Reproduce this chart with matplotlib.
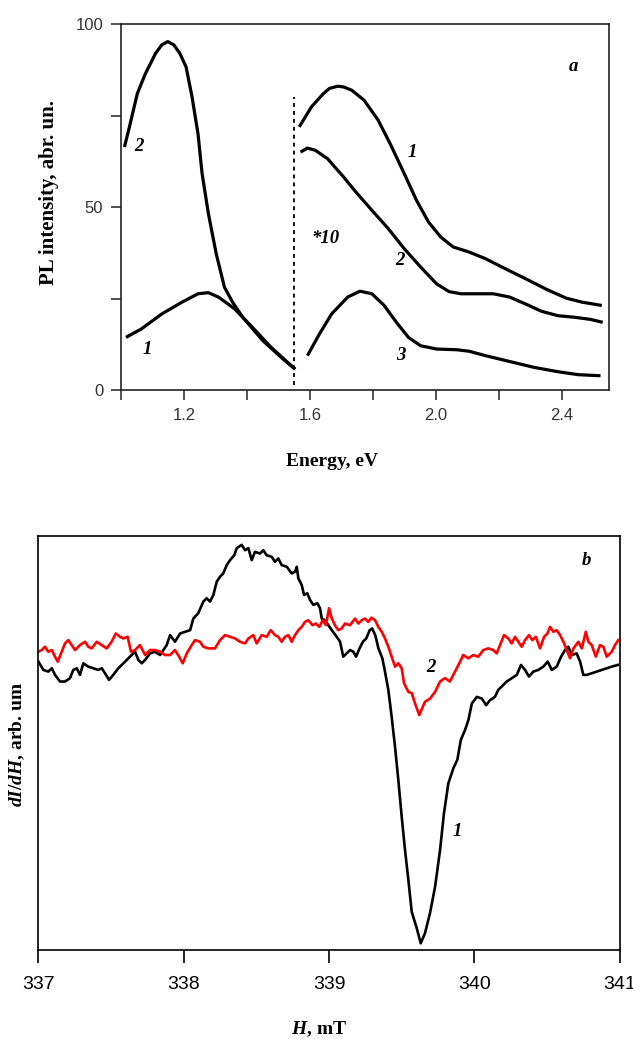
import matplotlib
matplotlib.use("Agg")
import matplotlib.pyplot as plt

plt.rcParams['mathtext.fontset'] = 'custom'
plt.rcParams['mathtext.it'] = 'Liberation Serif:italic:bold'
plt.rcParams['mathtext.rm'] = 'Liberation Serif:bold'

# ---------------- Panel a data (PL spectra) ----------------
e_c2_left = [1.010, 1.026, 1.051, 1.077, 1.093, 1.109, 1.129, 1.148, 1.167, 1.186, 1.206, 1.225,
             1.244, 1.257, 1.277, 1.302, 1.328, 1.354, 1.386, 1.45, 1.514, 1.553]
i_c2_left = [66.4, 71.9, 81.0, 86.5, 89.2, 92.0, 94.3, 95.2, 94.3, 92.0, 88.3, 80.1,
             70.0, 59.1, 48.2, 37.2, 28.1, 24.0, 19.9, 13.5, 8.5, 5.7]
e_c1_left = [1.015, 1.064, 1.129, 1.193, 1.244, 1.277, 1.309, 1.36, 1.412, 1.476, 1.553]
i_c1_left = [14.4, 16.7, 20.8, 24.0, 26.3, 26.6, 25.4, 22.2, 17.6, 11.7, 5.7]

e_c1_right = [1.566, 1.605, 1.643, 1.662, 1.688, 1.707, 1.733, 1.772, 1.817, 1.855, 1.90, 1.939,
              1.977, 2.016, 2.055, 2.106, 2.158, 2.222, 2.286, 2.35, 2.415, 2.466, 2.528]
i_c1_right = [71.9, 77.4, 81.0, 82.4, 83.0, 82.8, 81.9, 79.2, 73.7, 67.3, 59.1, 51.8,
              45.9, 41.8, 39.1, 37.7, 35.9, 33.1, 30.4, 27.6, 25.1, 24.0, 23.1]
e_c2_right = [1.570, 1.592, 1.617, 1.656, 1.707, 1.746, 1.797, 1.849, 1.90, 1.952, 2.003, 2.042,
              2.08, 2.132, 2.183, 2.235, 2.286, 2.337, 2.389, 2.44, 2.492, 2.531]
i_c2_right = [65.0, 66.1, 65.5, 63.2, 58.2, 54.1, 49.1, 44.1, 38.6, 33.6, 29.0, 26.9,
              26.3, 26.3, 26.3, 25.4, 23.5, 21.5, 20.3, 19.9, 19.3, 18.5]
e_c3 = [1.592, 1.63, 1.669, 1.72, 1.759, 1.797, 1.836, 1.875, 1.913, 1.952, 2.003, 2.068,
        2.106, 2.158, 2.235, 2.312, 2.389, 2.453, 2.524]
i_c3 = [9.4, 15.3, 20.8, 25.4, 27.0, 26.3, 23.1, 18.5, 14.4, 12.1, 11.2, 11.0,
        10.6, 9.4, 7.8, 6.2, 5.0, 4.2, 3.9]

split_energy = 1.55
x_ticks_a = [1.0, 1.2, 1.4, 1.6, 1.8, 2.0, 2.2, 2.4]
x_ticklabels_a = ['', '1.2', '', '1.6', '', '2.0', '', '2.4']
y_ticks_a = [0, 25, 50, 75, 100]
y_ticklabels_a = ['0', '', '50', '', '100']

# ---------------- Panel b data (EPR) ----------------
h_black = [337.0, 337.034, 337.068, 337.092, 337.114, 337.149, 337.183, 337.217, 337.24, 337.264,
           337.286, 337.309, 337.343, 337.378, 337.412, 337.436, 337.458, 337.486, 337.515, 337.55,
           337.584, 337.619, 337.642, 337.665, 337.688, 337.711, 337.734, 337.768, 337.802, 337.837,
           337.86, 337.883, 337.906, 337.94, 337.975, 338.009, 338.044, 338.066, 338.1, 338.135,
           338.158, 338.181, 338.204, 338.227, 338.25, 338.272, 338.296, 338.319, 338.348, 338.365,
           338.399, 338.422, 338.445, 338.468, 338.49, 338.525, 338.548, 338.57, 338.606, 338.628,
           338.651, 338.674, 338.709, 338.743, 338.766, 338.778, 338.789, 338.812, 338.828, 338.851,
           338.869, 338.892, 338.92, 338.938, 338.95, 338.972, 338.995, 339.019, 339.053, 339.076,
           339.098, 339.122, 339.145, 339.167, 339.186, 339.21, 339.233, 339.256, 339.28, 339.297,
           339.318, 339.34, 339.367, 339.385, 339.408, 339.431, 339.454, 339.477, 339.5, 339.523,
           339.546, 339.569, 339.604, 339.631, 339.66, 339.695, 339.73, 339.764, 339.791, 339.821,
           339.856, 339.883, 339.907, 339.936, 339.959, 339.983, 340.017, 340.051, 340.081, 340.108,
           340.142, 340.165, 340.189, 340.223, 340.257, 340.292, 340.321, 340.349, 340.376, 340.406,
           340.44, 340.475, 340.505, 340.533, 340.567, 340.597, 340.624, 340.647, 340.67, 340.704,
           340.728, 340.75, 340.774, 340.808, 340.842, 340.877, 340.911, 340.946, 340.987]
v_black = [69.6, 67.6, 67.2, 68.0, 66.4, 64.8, 64.8, 65.6, 67.6, 68.0,
           66.4, 69.2, 68.4, 68.0, 67.6, 68.0, 66.8, 65.2, 66.4, 68.0,
           69.2, 70.4, 71.2, 72.0, 70.0, 69.2, 70.0, 71.6, 72.0, 71.2,
           72.4, 73.6, 76.0, 74.4, 76.4, 76.8, 77.2, 80.0, 81.3, 84.1,
           84.9, 84.1, 85.7, 88.9, 90.1, 90.9, 92.9, 94.1, 95.3, 97.0,
           97.8, 96.5, 97.0, 94.1, 96.1, 95.7, 96.5, 95.3, 94.9, 93.7,
           94.5, 92.9, 92.5, 90.9, 91.3, 92.5, 89.7, 88.1, 85.7, 86.1,
           84.5, 83.3, 83.7, 82.5, 80.0, 79.6, 78.4, 77.2, 75.6, 74.4,
           70.8, 71.6, 72.4, 72.0, 70.8, 72.8, 74.4, 75.2, 77.2, 77.6,
           76.0, 72.8, 70.4, 67.2, 62.8, 56.3, 49.1, 41.0, 32.2, 24.1,
           16.9, 9.2, 5.2, 1.6, 4.0, 8.9, 15.3, 24.1, 33.0, 40.2,
           43.9, 45.9, 50.7, 53.1, 55.5, 59.5, 61.1, 60.7, 59.1, 60.3,
           61.1, 62.8, 63.6, 64.8, 65.6, 66.4, 68.8, 67.6, 66.0, 67.2,
           67.6, 68.4, 69.6, 67.6, 68.4, 70.8, 72.4, 73.2, 71.2, 71.6,
           69.6, 66.4, 66.4, 66.8, 67.2, 67.6, 68.0, 68.4, 68.8]

h_red = [337.0, 337.023, 337.045, 337.068, 337.092, 337.114, 337.133, 337.16, 337.183, 337.206,
         337.229, 337.252, 337.286, 337.321, 337.343, 337.367, 337.401, 337.436, 337.47, 337.504,
         337.532, 337.562, 337.584, 337.614, 337.637, 337.665, 337.699, 337.734, 337.768, 337.802,
         337.837, 337.871, 337.906, 337.94, 337.968, 337.993, 338.021, 338.055, 338.078, 338.112,
         338.135, 338.169, 338.215, 338.25, 338.284, 338.319, 338.353, 338.387, 338.422, 338.445,
         338.479, 338.502, 338.537, 338.571, 338.599, 338.628, 338.651, 338.674, 338.697, 338.72,
         338.743, 338.766, 338.789, 338.812, 338.835, 338.857, 338.887, 338.91, 338.933, 338.957,
         338.979, 339.0, 339.019, 339.041, 339.064, 339.087, 339.11, 339.145, 339.179, 339.202,
         339.225, 339.248, 339.27, 339.293, 339.317, 339.339, 339.363, 339.385, 339.408, 339.431,
         339.454, 339.477, 339.5, 339.516, 339.546, 339.569, 339.592, 339.621, 339.66, 339.695,
         339.73, 339.764, 339.798, 339.832, 339.867, 339.902, 339.924, 339.958, 339.993, 340.027,
         340.062, 340.096, 340.13, 340.154, 340.177, 340.204, 340.234, 340.257, 340.28, 340.303,
         340.326, 340.349, 340.376, 340.399, 340.423, 340.452, 340.48, 340.503, 340.521, 340.544,
         340.567, 340.59, 340.613, 340.636, 340.659, 340.682, 340.716, 340.74, 340.767, 340.785,
         340.808, 340.836, 340.865, 340.888, 340.911, 340.946, 340.968, 340.991]
v_red = [72.0, 72.4, 73.2, 72.0, 72.4, 70.8, 69.6, 72.0, 74.0, 74.8,
         73.6, 72.4, 73.6, 74.4, 73.2, 72.8, 74.4, 73.6, 72.8, 74.4,
         76.4, 75.6, 75.2, 75.6, 72.0, 72.4, 73.6, 71.2, 72.4, 72.4,
         72.0, 71.2, 71.2, 72.4, 70.8, 69.2, 71.6, 73.6, 74.8, 74.4,
         73.2, 72.8, 72.8, 74.8, 76.0, 75.6, 75.2, 74.4, 74.0, 75.2,
         76.0, 74.0, 76.0, 75.6, 77.2, 76.0, 75.6, 74.4, 75.6, 76.0,
         74.4, 76.0, 77.2, 78.0, 79.2, 79.6, 78.4, 78.8, 78.0, 79.6,
         78.4, 82.5, 80.0, 78.4, 77.2, 77.6, 78.8, 78.4, 80.0, 78.8,
         79.6, 80.0, 79.2, 80.2, 79.6, 78.0, 76.8, 75.2, 73.2, 70.8,
         68.4, 69.2, 68.0, 64.4, 62.3, 62.0, 59.5, 56.7, 59.9, 60.7,
         62.3, 64.8, 65.6, 64.8, 67.2, 69.6, 71.2, 70.4, 71.2, 70.8,
         72.4, 72.8, 72.4, 71.6, 73.6, 76.0, 75.2, 74.0, 75.6, 74.4,
         73.2, 74.8, 76.0, 74.8, 75.6, 72.8, 75.6, 76.4, 78.0, 76.8,
         77.2, 76.0, 74.4, 72.4, 70.4, 72.8, 74.4, 72.8, 76.8, 74.4,
         73.6, 70.8, 73.6, 73.2, 70.8, 72.0, 73.6, 74.8]

x_ticks_b = [337, 338, 339, 340, 341]

# ---------------- Figure ----------------
fig = plt.figure(figsize=(6.33, 10.39), dpi=100)
serif = 'Liberation Serif'
sans = 'Liberation Sans'
lab_font = dict(family=serif, weight='bold', style='italic', size=13.5)

# Panel a
ax1 = fig.add_axes([0.1916, 0.6246, 0.770, 0.3523])
lw_a = 2.3
for xs, ys in [(e_c2_left, i_c2_left), (e_c1_left, i_c1_left), (e_c1_right, i_c1_right),
               (e_c2_right, i_c2_right), (e_c3, i_c3)]:
    ax1.plot(xs, ys, color='black', lw=lw_a, solid_capstyle='butt', solid_joinstyle='round')
ax1.plot([split_energy, split_energy], [1.5, 80], color='black', lw=1.3, linestyle=(0, (2.2, 2.2)))
ax1.set_xlim(1.0, 2.55)
ax1.set_ylim(0, 100)
ax1.set_xticks(x_ticks_a)
ax1.set_xticklabels(x_ticklabels_a)
ax1.set_yticks(y_ticks_a)
ax1.set_yticklabels(y_ticklabels_a)
ax1.tick_params(direction='out', length=7, width=1.2, labelsize=12, colors='#333333', pad=6)
for lbl in ax1.get_xticklabels() + ax1.get_yticklabels():
    lbl.set_family(sans)
for s in ax1.spines.values():
    s.set_linewidth(1.2)
    s.set_color('#222222')
ax1.set_xlabel('Energy, eV', family=serif, weight='bold', size=14)
ax1.xaxis.set_label_coords(0.432, -0.172)
ax1.set_ylabel('PL intensity, abr. un.', family=serif, weight='bold', size=15)
ax1.yaxis.set_label_coords(-0.128, 0.54)

ax1.text(2.438, 88.3, 'a', ha='center', va='center', **lab_font)
ax1.text(1.055, 66.4, '2', ha='center', va='center', **lab_font)
ax1.text(1.084, 11.2, '1', ha='center', va='center', **lab_font)
ax1.text(1.926, 65.0, '1', ha='center', va='center', **lab_font)
ax1.text(1.65, 41.3, '*10', ha='center', va='center', **lab_font)
ax1.text(1.887, 35.4, '2', ha='center', va='center', **lab_font)
ax1.text(1.89, 9.4, '3', ha='center', va='center', **lab_font)

# Panel b
ax2 = fig.add_axes([0.0607, 0.0857, 0.9182, 0.3987])
ax2.plot(h_black, v_black, color='black', lw=1.9)
ax2.plot(h_red, v_red, color='#ff0000', lw=1.9)
ax2.set_xlim(337, 341)
ax2.set_ylim(0, 100)
ax2.set_xticks(x_ticks_b)
ax2.set_xticklabels([str(t) for t in x_ticks_b])
ax2.set_yticks([])
ax2.tick_params(axis='x', direction='out', length=9, width=1.2, labelsize=14, colors='black', pad=10)
for lbl in ax2.get_xticklabels():
    lbl.set_family(sans)
for s in ax2.spines.values():
    s.set_linewidth(1.2)
ax2.set_xlabel(r'$H$, mT', family=serif, weight='bold', size=14)
ax2.xaxis.set_label_coords(0.483, -0.168)
ax2.set_ylabel(r'$dI/dH$, arb. um', family=serif, weight='bold', size=14)
ax2.yaxis.set_label_coords(-0.02, 0.495)

ax2.text(340.774, 94.1, 'b', ha='center', va='center', **lab_font)
ax2.text(339.70, 68.2, '2', ha='center', va='center', **lab_font)
ax2.text(339.879, 28.6, '1', ha='center', va='center', **lab_font)

fig.savefig('out.png', dpi=100)
